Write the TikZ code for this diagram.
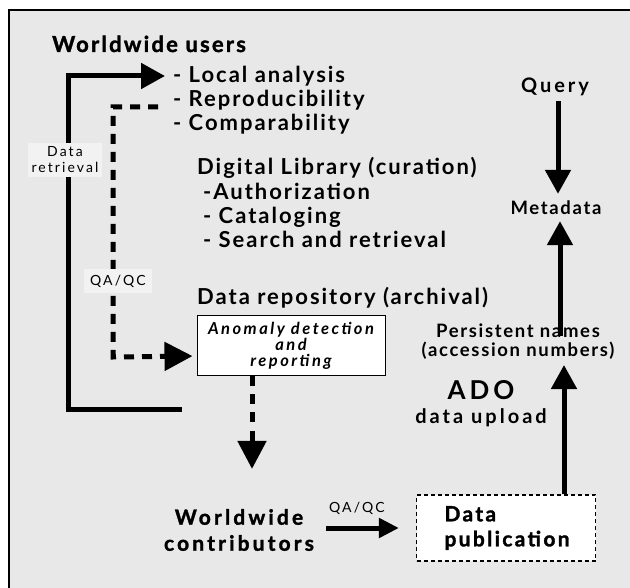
\documentclass[tikz,border=0pt]{standalone}
\usepackage{fontspec}
\setmainfont{Lato}
\newfontfamily\spaced{Lato}[LetterSpace=9]
\newfontfamily\extraspaced{Lato}[LetterSpace=15]
\newfontfamily\heavy{Lato}[LetterSpace=10, FakeBold=1.5]
\newfontfamily\heavywide{Lato}[LetterSpace=15, FakeBold=1.5]
\newfontfamily\heavypub{Lato}[LetterSpace=11, FakeBold=1.5]
\usetikzlibrary{arrows.meta}
\definecolor{panel}{HTML}{E8E8E8}
\definecolor{labelbg}{HTML}{F2F2F2}

\begin{document}
\begin{tikzpicture}[x=1pt,y=-1pt,
    every node/.style={inner sep=0pt},
    heading/.style={font=\heavy\bfseries\fontsize{22}{24}\selectfont, anchor=base west},
    item/.style={font=\spaced\bfseries\fontsize{22}{24}\selectfont, anchor=base west},
    small/.style={font=\extraspaced\fontsize{14}{16}\selectfont, align=center},
    mid/.style={font=\spaced\bfseries\fontsize{18.5}{19}\selectfont, align=center},
    bigarrow/.style={line width=5pt, -{Triangle[length=24pt,width=25pt]}},
    smallarrow/.style={line width=5pt, -{Triangle[length=20pt,width=19pt]}},
    dasharrow/.style={line width=5pt, dash pattern=on 10pt off 8pt, -{Triangle[length=28pt,width=28pt]}}]
    \useasboundingbox (0,0) rectangle (630,588);
    \fill[white] (0,0) rectangle (630,588);
    \fill[panel] (9,10) rectangle (630,588);
    \draw[line width=2pt] (9,588) -- (9,10) -- (630,10);

    % users side
    \node[heading] (users) at (52,52) {Worldwide users};
    \node[item] (local) at (173,83) {- Local analysis};
    \node[item] (repro) at (173,107) {- Reproducibility};
    \node[item] (compar) at (173,131) {- Comparability};

    \node[item] (diglib) at (197,175) {Digital Library (curation)};
    \node[item] (auth) at (203,200) {-Authorization};
    \node[item] (catal) at (203,224) {- Cataloging};
    \node[item] (search) at (203,248) {- Search and retrieval};

    \node[item] (repo) at (197,305) {Data repository (archival)};
    \node[draw, fill=white, line width=1pt, minimum width=188, minimum height=60,
      align=center, font=\extraspaced\bfseries\itshape\fontsize{16.5}{16}\selectfont] (anom) at (291,346)
      {Anomaly detection\\and\\reporting};

    % contributors side
    \node[align=center, font=\heavywide\bfseries\fontsize{21}{26}\selectfont]
      (contrib) at (239,530) {Worldwide\\contributors};
    \node[draw, dash pattern=on 4pt off 3pt, line width=1.2pt, fill=white, inner xsep=28pt,
      text width=123pt, minimum height=66, align=left,
      font=\heavypub\bfseries\fontsize{21}{25}\selectfont] (pub) at (506,528) {Data\\publication};
    \node[small] (qaqc2) at (357,508) {QA/QC};

    \node[font=\extraspaced\bfseries\fontsize{26}{28}\selectfont] (ado) at (481,390) {ADO};
    \node[font=\extraspaced\bfseries\fontsize{20}{22}\selectfont] (upload) at (481,418) {data upload};
    \node[mid] (pers) at (518,342) {Persistent names\\(accession numbers)};
    \node[mid] (meta) at (556,208) {Metadata};
    \node[font=\extraspaced\bfseries\fontsize{20}{22}\selectfont] (query) at (555,87) {Query};

    % connectors
    \coordinate (retr) at (182,410);
    \draw[bigarrow, shorten >=8pt] (retr) -- (68,410) -- (68,76) -- ([yshift=7pt]local.base west);
    \node[small, fill=labelbg, inner sep=4pt] (retrlabel) at (65,160) {Data\\retrieval};

    \draw[dasharrow, shorten >=4pt] ([xshift=-15pt]repro.base west) -- (113,107)
      -- (113,357) -- ([yshift=-10pt]anom.west);
    \node[small, fill=labelbg, inner xsep=6pt, inner ysep=6pt] (qaqc1) at (118,281) {QA/QC};

    \draw[dasharrow, shorten >=40pt] (anom.south -| 252,0) -- (contrib.north -| 252,0);
    \draw[smallarrow, shorten <=12pt, shorten >=17pt] (contrib.east |- pub.west) -- (pub.west);

    \draw[bigarrow, shorten >=5pt] (pub.north -| 564,0) -- (pers.south -| 564,0);
    \draw[bigarrow, shorten <=-12pt, shorten >=6pt] (pers.north -| 560,0) -- (meta.south -| 560,0);
    \draw[bigarrow, shorten <=5pt, shorten >=7pt] (query.south -| 558,0) -- (meta.north -| 558,0);
\end{tikzpicture}
\end{document}
